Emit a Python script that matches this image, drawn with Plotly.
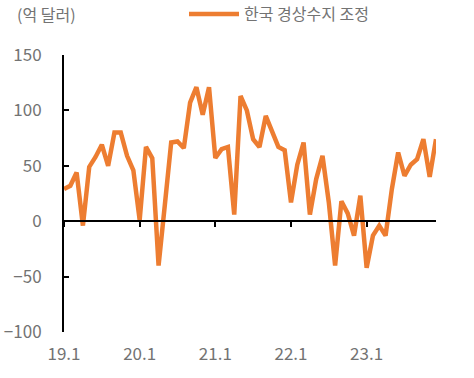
import plotly.graph_objects as go

months = list(range(60))
tick_vals = [0, 12, 24, 36, 48]
tick_labels = ["19.1", "20.1", "21.1", "22.1", "23.1"]
series_name = "한국 경상수지 조정"
values = [29, 32, 44, -4, 49, 58, 69, 50, 80, 80, 59, 46,
          1, 67, 57, -40, 15, 71, 72, 66, 107, 121, 96, 121,
          57, 65, 67, 6, 113, 100, 74, 67, 95, 81, 67, 64,
          17, 51, 71, 6, 38, 59, 17, -40, 18, 7, -13, 23,
          -42, -13, -4, -13, 29, 62, 41, 51, 56, 74, 40, 74]

FONT = "Noto Sans CJK KR"
GRAY = "#737373"

fig = go.Figure()
fig.add_trace(go.Scatter(x=months, y=values, mode="lines", name=series_name,
                         line=dict(color="#ED7D31", width=4.5)))
# invisible trace to carry the axis drawn at y=0
fig.add_trace(go.Scatter(x=months, y=values, xaxis="x2", mode="lines",
                         line=dict(width=0), opacity=0, showlegend=False,
                         hoverinfo="skip"))

fig.update_layout(
    width=474, height=378,
    margin=dict(l=64, r=38, t=55, b=46, autoexpand=False),
    plot_bgcolor="white", paper_bgcolor="white",
    font=dict(family=FONT, size=16, color=GRAY),
    showlegend=True,
    legend=dict(orientation="h", x=0.3226, xanchor="left", y=1.148, yanchor="middle",
                font=dict(size=16, color=GRAY), itemwidth=50),
    xaxis=dict(range=[0, 59], tickvals=tick_vals, ticktext=tick_labels,
               showline=False, showgrid=False, zeroline=False, ticks="",
               ticklabelstandoff=10,
               tickfont=dict(size=17, color=GRAY)),
    xaxis2=dict(range=[0, 59], matches="x", overlaying="x", anchor="free", position=0.4,
                tickvals=tick_vals, showticklabels=False, showline=True,
                linecolor="black", linewidth=2, ticks="outside", ticklen=5,
                tickwidth=2, tickcolor="black", showgrid=False, zeroline=False),
    yaxis=dict(range=[-100, 150], tickvals=[-100, -50, 0, 50, 100, 150],
               showline=True, linecolor="black", linewidth=2, ticks="inside",
               ticklen=5, tickwidth=2, tickcolor="black", showgrid=False,
               zeroline=False, ticklabelstandoff=17,
               tickfont=dict(size=17, color=GRAY)),
    annotations=[dict(text="(억 달러)", xref="paper", yref="paper", x=-0.132, y=1.148,
                      xanchor="left", yanchor="middle", showarrow=False,
                      font=dict(size=16, color=GRAY))],
)

fig.write_html("out.html", config={"displayModeBar": False},
               post_script="document.body.style.margin='0';")
